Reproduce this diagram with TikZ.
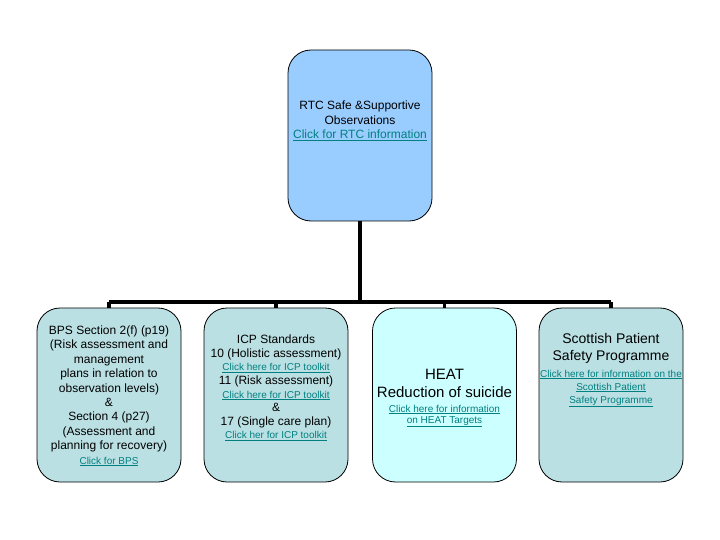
\documentclass[tikz,border=0pt]{standalone}
\usepackage{fontspec}
\setmainfont{Liberation Sans}
\definecolor{topfill}{RGB}{153,204,255}
\definecolor{boxfill}{RGB}{187,224,228}
\definecolor{heatfill}{RGB}{204,255,255}
\definecolor{linkc}{RGB}{0,128,128}
\newcommand{\lk}[1]{{\fontsize{10}{11}\selectfont\color{linkc}\underline{#1}}}
\newcommand{\lkbig}[1]{{\color{linkc}\underline{#1}}}
\tikzset{
  box/.style={draw=black, line width=0.8pt, rounded corners=23pt, minimum width=144pt, minimum height=174pt, inner sep=0pt},
  conn/.style={draw=black, line width=3.5pt},
  txt/.style={align=center, inner sep=0pt, text=black}
}
\begin{document}
\begin{tikzpicture}[x=1pt,y=-1pt]
\useasboundingbox (0,0) rectangle (720,540);
\node[box, fill=topfill, minimum height=171pt] (top) at (360,135.5) {};
\node[box, fill=boxfill] (b1) at (109,395) {};
\node[box, fill=boxfill] (b2) at (276,395) {};
\node[box, fill=heatfill] (b3) at (444.5,395) {};
\node[box, fill=boxfill] (b4) at (611,395) {};
\coordinate (bus) at (360,302);
\draw[conn] (top.south) -- (bus);
\draw[conn] (b1.north |- bus) -- (b4.north |- bus);
\foreach \b in {b1,b2,b3,b4} \draw[conn] (\b.north) -- (\b.north |- bus);
\node[txt, font=\fontsize{12}{14.5}\selectfont] (t0) at (360,121) {RTC Safe \&Supportive\\Observations\\\lkbig{Click for RTC information}};
\node[txt, font=\fontsize{12}{14.4}\selectfont] (t1) at (109,396) {BPS Section 2(f) (p19)\\(Risk assessment and\\management\\plans in relation to\\observation levels)\\\&\\Section 4 (p27)\\(Assessment and\\planning for recovery)\\\lk{Click for BPS}};
\node[txt, font=\fontsize{12}{13.6}\selectfont] (t2) at (276,388) {ICP Standards\\10 (Holistic assessment)\\\lk{Click here for ICP toolkit}\\11 (Risk assessment)\\\lk{Click here for ICP toolkit}\\\&\\17 (Single care plan)\\\lk{Click her for ICP toolkit}};
\node[txt, font=\fontsize{15}{18}\selectfont] (t3) at (444.5,398) {HEAT\\Reduction of suicide\\[-3pt]\lk{Click here for information}\\[-7pt]\lk{on HEAT Targets}};
\node[txt, font=\fontsize{14}{17}\selectfont] (t4) at (611,370) {Scottish Patient\\Safety Programme\\\lk{Click here for information on the}\\[-4pt]\lk{Scottish Patient}\\[-4pt]\lk{Safety Programme}};
\end{tikzpicture}
\end{document}
